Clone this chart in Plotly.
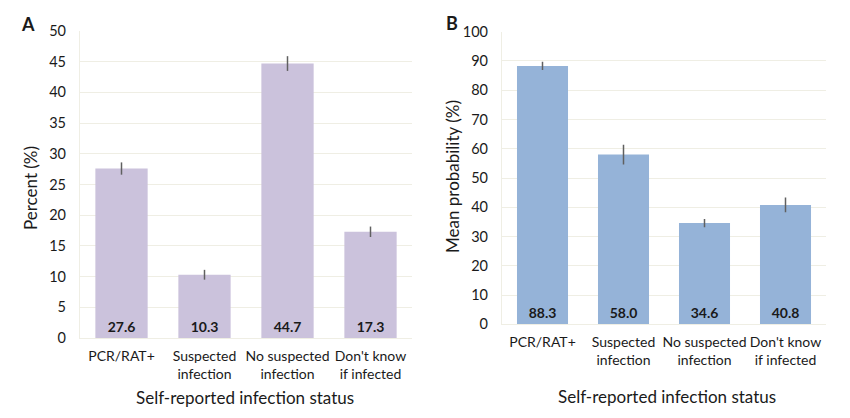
import plotly.graph_objects as go

categories = ["PCR/RAT+", "Suspected<br>infection", "No suspected<br>infection", "Don't know<br>if infected"]
percent = [27.6, 10.3, 44.7, 17.3]
percent_err = [1.0, 0.8, 1.2, 0.85]
mean_prob = [88.3, 58.0, 34.6, 40.8]
mean_prob_err = [1.4, 3.4, 1.4, 2.5]
labels_a = ["27.6", "10.3", "44.7", "17.3"]
labels_b = ["88.3", "58.0", "34.6", "40.8"]

W, H = 850, 418
FONT = "Lato"
GRID = "#EFEEE4"

fig = go.Figure()
fig.add_trace(go.Bar(
    x=categories, y=percent, xaxis="x", yaxis="y",
    marker=dict(color="#CBC2DC", line=dict(width=0)),
    error_y=dict(type="data", array=percent_err, color="#606060", thickness=1.5, width=0),
    text=labels_a, textposition="inside", insidetextanchor="start",
    textfont=dict(family=FONT, size=14, color="#1a1a1a", weight="bold"),
    textangle=0, showlegend=False,
))
fig.add_trace(go.Bar(
    x=categories, y=mean_prob, xaxis="x2", yaxis="y2",
    marker=dict(color="#95B3D8", line=dict(width=0)),
    error_y=dict(type="data", array=mean_prob_err, color="#606060", thickness=1.5, width=0),
    text=labels_b, textposition="inside", insidetextanchor="start",
    textfont=dict(family=FONT, size=14, color="#1a1a1a", weight="bold"),
    textangle=0, showlegend=False,
))

def px(x):
    return x / W

def py(y):
    return 1 - y / H

common_x = dict(type="category", range=[-0.5, 3.5], showgrid=False, zeroline=False,
                showline=True, linecolor=GRID, linewidth=1.2, ticks="", automargin=False,
                tickangle=0, tickfont=dict(family=FONT, size=14, color="#1a1a1a"),
                ticklabelstandoff=5)
common_y = dict(showgrid=True, gridcolor=GRID, gridwidth=1.2, zeroline=False,
                showline=True, linecolor=GRID, linewidth=1.2, ticks="", automargin=False,
                tickfont=dict(family=FONT, size=14.5, color="#1a1a1a"), ticklabelstandoff=10)

fig.update_layout(
    width=W, height=H, margin=dict(l=0, r=0, t=0, b=0, autoexpand=False),
    paper_bgcolor="white", plot_bgcolor="white",
    bargap=0.37,
    font=dict(family=FONT, color="#1a1a1a"),
    xaxis=dict(domain=[px(80), px(412)], anchor="y", **common_x),
    yaxis=dict(domain=[py(338), py(31)], anchor="x", range=[0, 50], dtick=5, **common_y),
    xaxis2=dict(domain=[px(502), px(826)], anchor="y2", **common_x),
    yaxis2=dict(domain=[py(324.3), py(31.7)], anchor="x2", range=[0, 100], dtick=10, **common_y),
)

annots = [
    dict(text="<b>A</b>", x=px(28), y=py(24), size=18),
    dict(text="<b>B</b>", x=px(452), y=py(23), size=18),
    dict(text="Self-reported infection status", x=px(245), y=py(397), size=17),
    dict(text="Self-reported infection status", x=px(667), y=py(396), size=17),
]
for a in annots:
    fig.add_annotation(text=a["text"], x=a["x"], y=a["y"], xref="paper", yref="paper",
                       showarrow=False, xanchor="center", yanchor="middle",
                       font=dict(family=FONT, size=a["size"], color="#1a1a1a"))
fig.add_annotation(text="Percent (%)", x=px(30), y=py(188), xref="paper", yref="paper",
                   showarrow=False, textangle=-90, xanchor="center", yanchor="middle",
                   font=dict(family=FONT, size=17, color="#1a1a1a"))
fig.add_annotation(text="Mean probability (%)", x=px(452), y=py(177), xref="paper", yref="paper",
                   showarrow=False, textangle=-90, xanchor="center", yanchor="middle",
                   font=dict(family=FONT, size=17, color="#1a1a1a"))

fig.write_html("out.html", config={"displayModeBar": False},
               post_script="document.body.style.margin='0';document.body.style.overflow='hidden';")
